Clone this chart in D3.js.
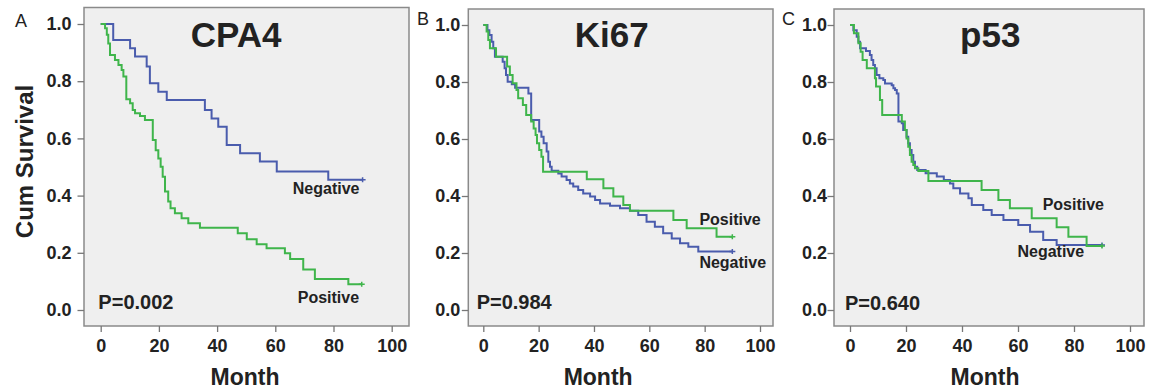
<!DOCTYPE html>
<html>
<head>
<meta charset="utf-8">
<script src="https://cdn.jsdelivr.net/npm/d3@7"></script>
<style>
  body { margin: 0; background: #fff; }
  svg { display: block; font-family: "Liberation Sans", Arial, sans-serif; }
  .tick text { font-size: 18px; font-weight: bold; fill: #222; }
  .tick line { stroke: #777; stroke-width: 1.3; }
</style>
</head>
<body>
<svg width="1151" height="391"></svg>
<script>
// Kaplan-Meier step points: [month, cumulative survival]
const cpa4Negative = [[0,1],[4.3,0.944],[10.1,0.915],[11.8,0.886],[15.8,0.851],[16.9,0.793],[19.8,0.763],
  [22.7,0.734],[35.8,0.699],[38.1,0.670],[40.4,0.641],[43.3,0.577],[47.9,0.548],[54.7,0.519],[60.5,0.484],
  [78.2,0.455],[90,0.455]];
const cpa4Positive = [[0,1],[1.5,0.985],[2.1,0.962],[2.6,0.932],[3.2,0.892],[4.9,0.874],[6.1,0.857],[7.2,0.839],
  [7.8,0.816],[8.8,0.737],[10.1,0.723],[11.0,0.699],[11.8,0.688],[13.5,0.678],[15.2,0.664],[17.9,0.594],
  [18.9,0.559],[19.8,0.530],[20.6,0.501],[21.3,0.466],[22.1,0.414],[23.2,0.379],[24.0,0.356],[25.5,0.338],
  [27.8,0.321],[30.1,0.303],[34.1,0.288],[47.1,0.268],[50.2,0.247],[53.6,0.230],[57.0,0.216],[63.3,0.198],
  [65.1,0.178],[69.6,0.142],[73.6,0.108],[85.1,0.090],[89.7,0.090]];
const ki67Negative = [[0,1],[1.5,0.982],[2.2,0.965],[3.0,0.941],[3.6,0.918],[4.2,0.889],[7.0,0.871],[7.7,0.848],
  [8.2,0.825],[8.8,0.801],[10.3,0.792],[11.5,0.780],[16.3,0.760],[17.3,0.667],[20.2,0.626],[21.0,0.608],
  [21.8,0.585],[22.9,0.556],[23.5,0.520],[24.1,0.503],[24.7,0.489],[27.1,0.479],[28.3,0.468],[30.1,0.456],
  [31.3,0.444],[32.5,0.433],[34.3,0.421],[36.1,0.409],[38.6,0.398],[40.4,0.386],[42.2,0.374],[45.8,0.366],
  [49.4,0.357],[53.0,0.348],[56.0,0.333],[59.0,0.310],[62.0,0.292],[65.0,0.269],[68.1,0.251],[71.1,0.234],
  [74.1,0.222],[77.7,0.205],[90,0.205]];
const ki67Positive = [[0,1],[1.2,0.977],[1.8,0.947],[2.4,0.918],[4.6,0.889],[8.6,0.854],[9.6,0.825],
  [10.6,0.796],[12.0,0.772],[12.6,0.743],[14.3,0.719],[15.5,0.684],[17.3,0.661],[18.2,0.637],[18.9,0.614],
  [19.4,0.585],[20.2,0.561],[21.0,0.538],[21.6,0.485],[37.4,0.459],[43.4,0.427],[47.0,0.398],[50.6,0.368],
  [53.0,0.348],[68.7,0.316],[73.5,0.287],[84.3,0.257],[90,0.257]];
const p53Negative = [[0,1],[1.2,0.982],[2.4,0.959],[3.0,0.941],[3.6,0.918],[5.7,0.909],[7.1,0.895],[7.7,0.877],
  [8.3,0.860],[8.9,0.848],[9.5,0.825],[10.5,0.813],[11.9,0.807],[12.5,0.795],[14.9,0.789],[15.5,0.778],
  [16.1,0.772],[16.7,0.760],[17.3,0.661],[18.5,0.655],[19.0,0.632],[20.2,0.608],[20.8,0.585],[21.4,0.561],
  [22.0,0.544],[22.6,0.520],[23.2,0.503],[24.0,0.491],[27.0,0.480],[31.0,0.468],[33.5,0.456],[35.7,0.444],
  [36.9,0.427],[39.3,0.409],[42.3,0.392],[43.5,0.368],[47.6,0.351],[50.6,0.333],[54.8,0.316],[60.1,0.298],
  [64.3,0.275],[69.0,0.246],[73.8,0.228],[90,0.228]];
const p53Positive = [[0,1],[1.4,0.971],[3.0,0.936],[3.8,0.906],[4.5,0.877],[6.0,0.848],[8.9,0.813],[9.3,0.784],
  [10.7,0.737],[11.5,0.684],[18.5,0.661],[19.6,0.632],[20.2,0.602],[20.8,0.573],[21.4,0.544],[22.0,0.520],
  [22.6,0.509],[23.2,0.497],[24.4,0.488],[28.0,0.453],[47.0,0.421],[53.0,0.386],[57.1,0.357],[64.9,0.322],
  [73.8,0.290],[78.0,0.257],[84.5,0.225],[90,0.225]];

const panelLetters = ['A', 'B', 'C'];
const markers = ['CPA4', 'Ki67', 'p53'];
const pValues = ['P=0.002', 'P=0.984', 'P=0.640'];
const monthTicks = [0, 20, 40, 60, 80, 100];
const survivalTicks = [0, 0.2, 0.4, 0.6, 0.8, 1.0];

const blue = '#4a5cad';
const green = '#3fb54b';

// pixel layout of each panel (box, scale ranges, label spots in data units)
const panels = [
  { neg: cpa4Negative, pos: cpa4Positive, box: [84, 7.5, 409, 326], xr: [100.7, 391.7], yr: [310, 24],
    pad: 6, letter: [15, 27], titleX: 46.5, monthX: 49.6,
    negLabel: [66, 0.406], posLabel: [67.7, 0.025], pLabel: [-0.8, 0.003] },
  { neg: ki67Negative, pos: ki67Positive, box: [468.3, 9, 773, 326], xr: [483.3, 760], yr: [310, 25],
    pad: 1.5, letter: [417, 25], titleX: 46.4, monthX: 41.5,
    negLabel: [78.1, 0.147], posLabel: [78.1, 0.298], pLabel: [-2.4, 0.003] },
  { neg: p53Negative, pos: p53Positive, box: [834, 9, 1144, 326], xr: [850, 1130], yr: [310, 25],
    pad: 0.5, letter: [782, 25], titleX: 50.1, monthX: 48.2,
    negLabel: [59.8, 0.186], posLabel: [68.8, 0.351], pLabel: [-1.8, 0.0] }
];

const svg = d3.select('svg');

svg.append('text')
  .attr('transform', 'translate(33, 161.5) rotate(-90)')
  .attr('text-anchor', 'middle')
  .style('font-size', '24px').style('font-weight', 'bold').style('fill', '#222')
  .text('Cum Survival');

panels.forEach((p, i) => {
  const x = d3.scaleLinear().domain([0, 100]).range(p.xr);
  const y = d3.scaleLinear().domain([0, 1]).range(p.yr);
  const [bx0, by0, bx1, by1] = p.box;
  const g = svg.append('g');

  g.append('rect')
    .attr('x', bx0).attr('y', by0)
    .attr('width', bx1 - bx0).attr('height', by1 - by0)
    .attr('fill', '#efefef')
    .attr('stroke', '#8a8a8a').attr('stroke-width', 1.5);

  g.append('g')
    .attr('transform', `translate(${bx0},0)`)
    .call(d3.axisLeft(y).tickValues(survivalTicks).tickFormat(d3.format('.1f'))
      .tickSize(6.5).tickPadding(p.pad))
    .call(a => a.select('.domain').remove());

  g.append('g')
    .attr('transform', `translate(0,${by1})`)
    .call(d3.axisBottom(x).tickValues(monthTicks).tickSize(6).tickPadding(7))
    .call(a => a.select('.domain').remove());

  const line = d3.line()
    .x(d => x(d[0]))
    .y(d => y(d[1]))
    .curve(d3.curveStepAfter);

  [[p.neg, blue], [p.pos, green]].forEach(([data, color]) => {
    g.append('path')
      .datum(data)
      .attr('d', line)
      .attr('fill', 'none')
      .attr('stroke', color)
      .attr('stroke-width', 2);
    const last = data[data.length - 1];
    g.append('path')
      .attr('d', `M${x(last[0]) - 3},${y(last[1])}h6M${x(last[0])},${y(last[1]) - 2.5}v5`)
      .attr('stroke', color).attr('stroke-width', 1.5);
  });

  const bold = (sel, size) => sel.style('font-size', size + 'px').style('font-weight', 'bold').style('fill', '#222');

  g.append('text')
    .attr('x', x(p.titleX)).attr('y', 46.5)
    .attr('text-anchor', 'middle')
    .call(bold, 35)
    .text(markers[i]);

  g.append('text')
    .attr('x', x(p.pLabel[0])).attr('y', y(p.pLabel[1]))
    .call(bold, 20)
    .text(pValues[i]);

  g.append('text')
    .attr('x', x(p.negLabel[0])).attr('y', y(p.negLabel[1]))
    .call(bold, 16)
    .text('Negative');

  g.append('text')
    .attr('x', x(p.posLabel[0])).attr('y', y(p.posLabel[1]))
    .call(bold, 16)
    .text('Positive');

  g.append('text')
    .attr('x', x(p.monthX)).attr('y', 385)
    .attr('text-anchor', 'middle')
    .call(bold, 23)
    .text('Month');

  g.append('text')
    .attr('x', p.letter[0]).attr('y', p.letter[1])
    .style('font-size', '18px').style('fill', '#222')
    .text(panelLetters[i]);
});
</script>
</body>
</html>
